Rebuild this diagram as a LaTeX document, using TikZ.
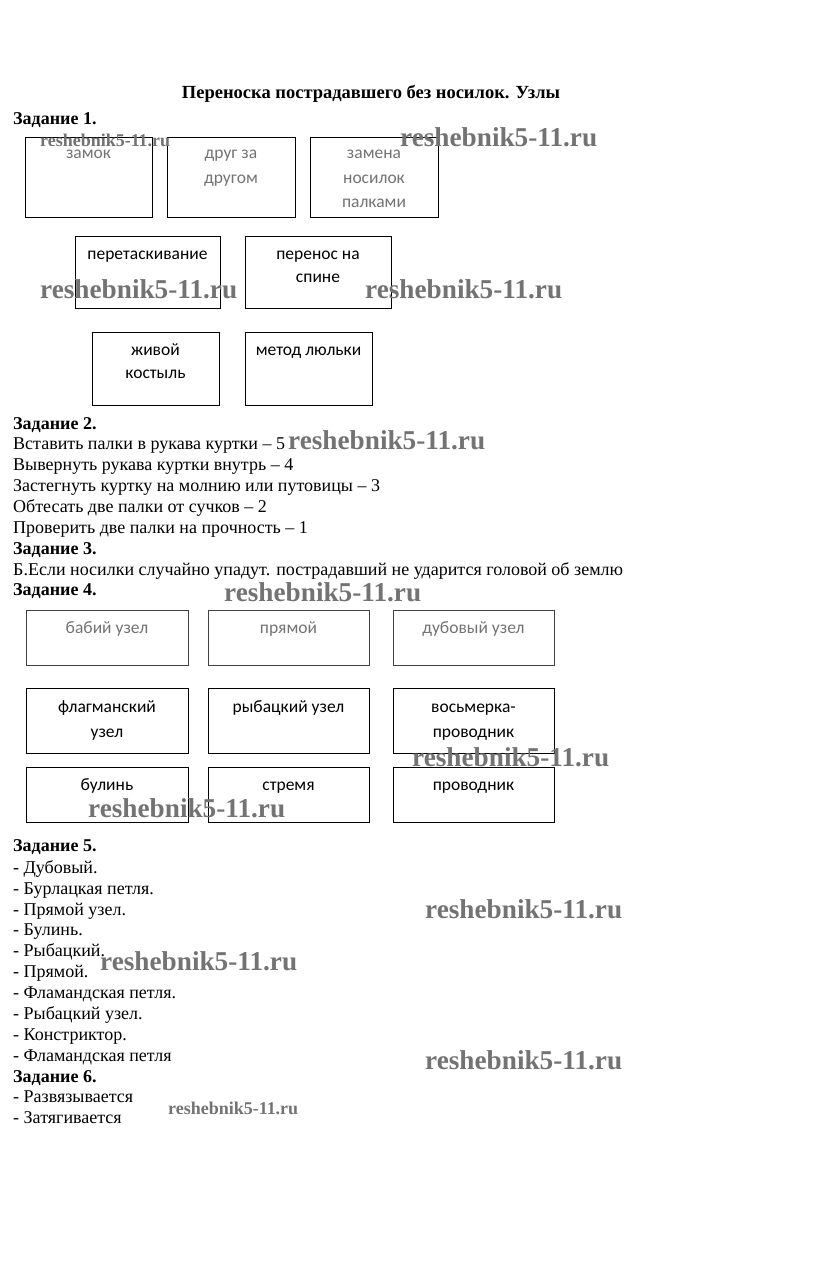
\documentclass[tikz,border=0pt]{standalone}
\usepackage{fontspec}
\setmainfont{Liberation Serif}
\newfontfamily\boxfont{Carlito}
\usetikzlibrary{calc}
\tikzset{
  box/.style={draw=black, line width=0.9pt, inner sep=0pt},
  fbox/.style={draw=black!75, line width=0.9pt, inner sep=0pt},
  bt/.style={font=\boxfont\fontsize{17.5}{20}\selectfont, anchor=base, inner sep=0pt},
  fbt/.style={bt, text=black!55},
  tx/.style={font=\fontsize{18}{21}\selectfont, anchor=base west, inner sep=0pt},
  hd/.style={font=\bfseries\fontsize{18}{21}\selectfont, anchor=base west, inner sep=0pt},
  ttl/.style={font=\bfseries\fontsize{18.5}{21}\selectfont, anchor=base, inner sep=0pt},
  wm/.style={text=black!55, inner sep=0pt, anchor=west, font=\bfseries},
}
\newcommand{\wmark}[1]{\resizebox{#1pt}{!}{reshebnik5-11.ru}}
\begin{document}
\begin{tikzpicture}[x=1pt,y=-1pt]
\useasboundingbox (0,0) rectangle (823,1277);
\fill[white] (0,0) rectangle (823,1277);

% title
\node[ttl] (title) at (371,98) {Переноска пострадавшего без носилок. Узлы};

% Task 1
\node[hd] (h1) at (13,124) {Задание 1.};
\node[box, minimum width=127, minimum height=80] (b1) at (88.5,177) {};
\node[box, minimum width=128, minimum height=80] (b2) at (231,177) {};
\node[box, minimum width=128, minimum height=80] (b3) at (374,177) {};
\node[fbt] (b1a) at (88.5,158) {замок};
\node[fbt] (b2a) at (231,158) {друг за};
\node[fbt] (b2b) at (231,183) {другом};
\node[fbt] (b3a) at (374,158) {замена};
\node[fbt] (b3b) at (374,183) {носилок};
\node[fbt] (b3c) at (374,207) {палками};

\node[box, minimum width=145, minimum height=72] (b4) at (147.5,272) {};
\node[box, minimum width=146, minimum height=72] (b5) at (318,272) {};
\node[bt] (b4a) at (147.5,259) {перетаскивание};
\node[bt] (b5a) at (318,259) {перенос на};
\node[bt] (b5b) at (318,282) {спине};

\node[box, minimum width=127, minimum height=73] (b6) at (155.5,368.5) {};
\node[box, minimum width=127, minimum height=73] (b7) at (308.5,368.5) {};
\node[bt] (b6a) at (155.5,355) {живой};
\node[bt] (b6b) at (155.5,378) {костыль};
\node[bt] (b7a) at (308.5,355) {метод люльки};

% Task 2
\node[hd] (h2) at (13,429) {Задание 2.};
\node[tx] (l21) at (13,449) {Вставить палки в рукава куртки – 5};
\node[tx] (l22) at (13,470) {Вывернуть рукава куртки внутрь – 4};
\node[tx] (l23) at (13,491) {Застегнуть куртку на молнию или путовицы – 3};
\node[tx] (l24) at (13,512) {Обтесать две палки от сучков – 2};
\node[tx] (l25) at (13,533) {Проверить две палки на прочность – 1};
% Task 3
\node[hd] (h3) at (13,554) {Задание 3.};
\node[tx] (l31) at (13,575) {Б.Если носилки случайно упадут. пострадавший не ударится головой об землю};
% Task 4
\node[hd] (h4) at (13,595) {Задание 4.};

\node[fbox, minimum width=162, minimum height=55] (k1) at (107,637.5) {};
\node[fbox, minimum width=161, minimum height=55] (k2) at (288.5,637.5) {};
\node[fbox, minimum width=161, minimum height=55] (k3) at (473.5,637.5) {};
\node[fbt] (k1a) at (107,633) {бабий узел};
\node[fbt] (k2a) at (288.5,633) {прямой};
\node[fbt] (k3a) at (473.5,633) {дубовый узел};

\node[box, minimum width=162, minimum height=65] (k4) at (107,720.5) {};
\node[box, minimum width=161, minimum height=65] (k5) at (288.5,720.5) {};
\node[box, minimum width=161, minimum height=65] (k6) at (473.5,720.5) {};
\node[bt] (k4a) at (107,712) {флагманский};
\node[bt] (k4b) at (107,737) {узел};
\node[bt] (k5a) at (288.5,712) {рыбацкий узел};
\node[bt] (k6a) at (473.5,712) {восьмерка-};
\node[bt] (k6b) at (473.5,737) {проводник};

\node[box, minimum width=162, minimum height=55] (k7) at (107,794.5) {};
\node[box, minimum width=161, minimum height=55] (k8) at (288.5,794.5) {};
\node[box, minimum width=161, minimum height=55] (k9) at (473.5,794.5) {};
\node[bt] (k7a) at (107,790) {булинь};
\node[bt] (k8a) at (288.5,790) {стремя};
\node[bt] (k9a) at (473.5,790) {проводник};

% Task 5
\node[hd] (h5) at (13,851) {Задание 5.};
\node[tx] (l51) at (13,873) {- Дубовый.};
\node[tx] (l52) at (13,894) {- Бурлацкая петля.};
\node[tx] (l53) at (13,915) {- Прямой узел.};
\node[tx] (l54) at (13,935) {- Булинь.};
\node[tx] (l55) at (13,956) {- Рыбацкий.};
\node[tx] (l56) at (13,977) {- Прямой.};
\node[tx] (l57) at (13,998) {- Фламандская петля.};
\node[tx] (l58) at (13,1019) {- Рыбацкий узел.};
\node[tx] (l59) at (13,1040) {- Констриктор.};
\node[tx] (l510) at (13,1061) {- Фламандская петля};
% Task 6
\node[hd] (h6) at (13,1082) {Задание 6.};
\node[tx] (l61) at (13,1102) {- Развязывается};
\node[tx] (l62) at (13,1123) {- Затягивается};

% watermarks
\node[wm] (w1) at (40,140) {\wmark{130}};
\node[wm] (w2) at (400,137) {\wmark{197}};
\node[wm] (w3) at (40,289) {\wmark{197}};
\node[wm] (w4) at (365,289) {\wmark{197}};
\node[wm] (w5) at (288,440) {\wmark{197}};
\node[wm] (w6) at (224,592) {\wmark{197}};
\node[wm] (w7) at (412,757) {\wmark{197}};
\node[wm] (w8) at (88,808) {\wmark{197}};
\node[wm] (w9) at (425,909) {\wmark{197}};
\node[wm] (w10) at (100,961) {\wmark{197}};
\node[wm] (w11) at (425,1060) {\wmark{197}};
\node[wm] (w12) at (168,1108) {\wmark{130}};
\end{tikzpicture}
\end{document}
